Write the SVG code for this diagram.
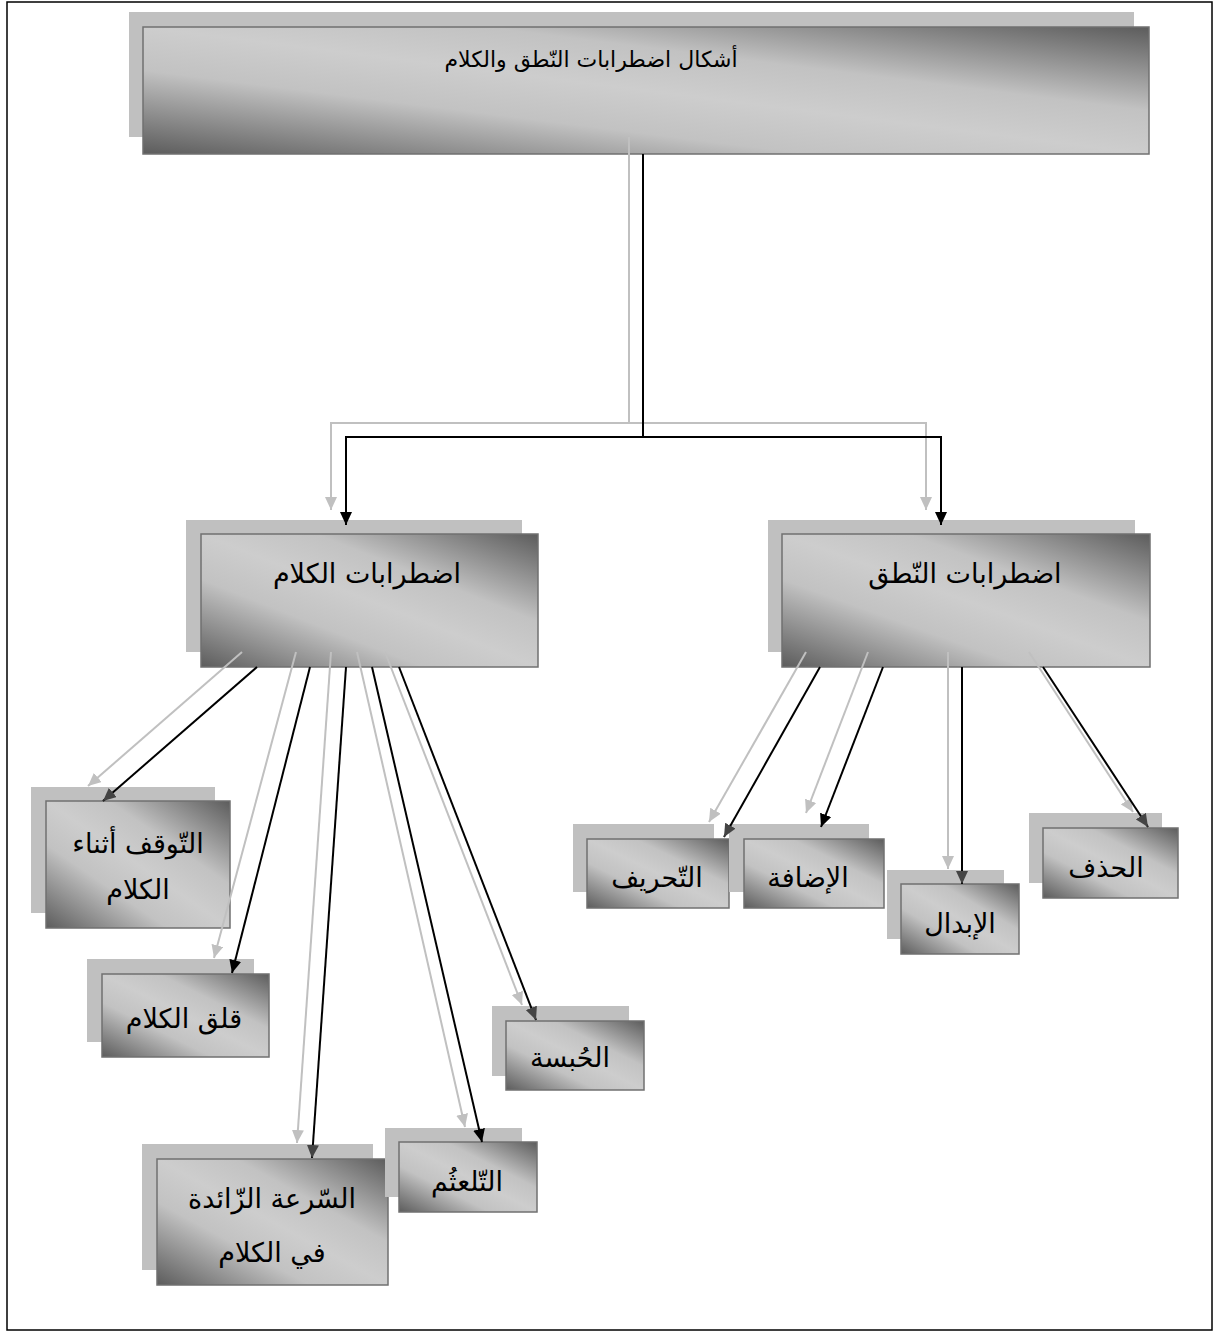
<svg xmlns="http://www.w3.org/2000/svg" width="1215" height="1334" viewBox="0 0 1215 1334">
<defs>
<linearGradient id="g" x1="0" y1="1" x2="1" y2="0">
<stop offset="0" stop-color="#5c5c5c"/>
<stop offset="0.33" stop-color="#c2c2c2"/>
<stop offset="0.5" stop-color="#cdcdcd"/>
<stop offset="0.67" stop-color="#c2c2c2"/>
<stop offset="1" stop-color="#5c5c5c"/>
</linearGradient>
<marker id="ab" markerUnits="userSpaceOnUse" markerWidth="14" markerHeight="12" refX="13" refY="6" orient="auto"><path d="M0,0 L13,6 L0,12 Z" fill="#000"/></marker>
<marker id="ad" markerUnits="userSpaceOnUse" markerWidth="14" markerHeight="12" refX="13" refY="6" orient="auto"><path d="M0,0 L13,6 L0,12 Z" fill="#444"/></marker>
<marker id="ag" markerUnits="userSpaceOnUse" markerWidth="14" markerHeight="12" refX="13" refY="6" orient="auto"><path d="M0,0 L13,6 L0,12 Z" fill="#c0c0c0"/></marker>
<style>
.sh{fill:#c0c0c0;stroke:none}
.bx{fill:url(#g);stroke:#707070;stroke-width:1.5}
.t{font-family:"DejaVu Sans",sans-serif;font-size:27px;fill:#000;text-anchor:middle}
.tt{font-family:"DejaVu Sans",sans-serif;font-size:22px;fill:#000;text-anchor:middle}
.cg{fill:none;stroke:#c0c0c0;stroke-width:2;marker-end:url(#ag)}
.cb{fill:none;stroke:#000;stroke-width:2;marker-end:url(#ab)}
.cd{fill:none;stroke:#000;stroke-width:2;marker-end:url(#ad)}
</style>
</defs>
<rect x="7" y="2" width="1205" height="1328" fill="#fff" stroke="#000" stroke-width="1.5"/>

<g id="n-root">
<rect class="sh" x="129" y="12" width="1005" height="125"/>
<rect class="bx" x="143" y="27" width="1006" height="127"/>
<text class="tt" x="591" y="67" direction="rtl">أشكال اضطرابات النّطق والكلام</text>
</g>

<g id="n-kalam">
<rect class="sh" x="186" y="520" width="336" height="132"/>
<rect class="bx" x="201" y="534" width="337" height="133"/>
<text class="t" x="367" y="583" direction="rtl">اضطرابات الكلام</text>
</g>

<g id="n-nutq">
<rect class="sh" x="768" y="520" width="367" height="132"/>
<rect class="bx" x="782" y="534" width="368" height="133"/>
<text class="t" x="965" y="583" direction="rtl">اضطرابات النّطق</text>
</g>

<g id="n-tawaqquf">
<rect class="sh" x="31" y="787" width="184" height="126"/>
<rect class="bx" x="46" y="801" width="184" height="127"/>
<text class="t" x="138" y="853" direction="rtl">التّوقف أثناء</text>
<text class="t" x="138" y="899" direction="rtl">الكلام</text>
</g>

<g id="n-qalaq">
<rect class="sh" x="87" y="959" width="167" height="83"/>
<rect class="bx" x="102" y="974" width="167" height="83"/>
<text class="t" x="184" y="1028" direction="rtl">قلق الكلام</text>
</g>

<g id="n-sura">
<rect class="sh" x="142" y="1144" width="231" height="126"/>
<rect class="bx" x="157" y="1159" width="231" height="126"/>
<text class="t" x="272" y="1208" direction="rtl">السّرعة الزّائدة</text>
<text class="t" x="272" y="1262" direction="rtl">في الكلام</text>
</g>

<g id="n-talathum">
<rect class="sh" x="385" y="1128" width="137" height="69"/>
<rect class="bx" x="399" y="1142" width="138" height="70"/>
<text class="t" x="467" y="1191" direction="rtl">التّلعثُم</text>
</g>

<g id="n-hubsa">
<rect class="sh" x="492" y="1006" width="137" height="70"/>
<rect class="bx" x="506" y="1021" width="138" height="69"/>
<text class="t" x="570" y="1067" direction="rtl">الحُبسة</text>
</g>

<g id="n-tahrif">
<rect class="sh" x="573" y="824" width="141" height="68"/>
<rect class="bx" x="587" y="839" width="142" height="69"/>
<text class="t" x="657" y="887" direction="rtl">التّحريف</text>
</g>

<g id="n-idafa">
<rect class="sh" x="729" y="824" width="140" height="68"/>
<rect class="bx" x="744" y="839" width="140" height="69"/>
<text class="t" x="808" y="887" direction="rtl">الإضافة</text>
</g>

<g id="n-ibdal">
<rect class="sh" x="887" y="870" width="117" height="69"/>
<rect class="bx" x="901" y="884" width="118" height="70"/>
<text class="t" x="960" y="933" direction="rtl">الإبدال</text>
</g>

<g id="n-hadhf">
<rect class="sh" x="1029" y="813" width="133" height="70"/>
<rect class="bx" x="1043" y="828" width="135" height="70"/>
<text class="t" x="1106" y="877" direction="rtl">الحذف</text>
</g>

<g id="connectors">
<path class="cg" d="M629,137 V423 H331 V510"/>
<path class="cg" d="M629,423 H926 V510"/>
<path class="cb" d="M643,154 V437 H346 V525"/>
<path class="cb" d="M643,437 H941 V525"/>

<path class="cg" d="M242,652 L88,786"/>
<path class="cg" d="M296,652 L214,958"/>
<path class="cg" d="M331,652 L297,1143"/>
<path class="cg" d="M357,652 L465,1127"/>
<path class="cg" d="M385,652 L522,1005"/>
<path class="cd" d="M257,667 L103,801"/>
<path class="cb" d="M310,667 L232,973"/>
<path class="cd" d="M346,667 L312,1158"/>
<path class="cb" d="M372,667 L482,1142"/>
<path class="cd" d="M399,667 L536,1020"/>

<path class="cg" d="M806,652 L709,822"/>
<path class="cg" d="M868,652 L806,813"/>
<path class="cg" d="M948,652 L948,869"/>
<path class="cg" d="M1029,652 L1133,812"/>
<path class="cd" d="M820,667 L724,837"/>
<path class="cb" d="M883,667 L821,827"/>
<path class="cd" d="M962,667 L962,884"/>
<path class="cd" d="M1043,667 L1148,827"/>
</g>
</svg>
